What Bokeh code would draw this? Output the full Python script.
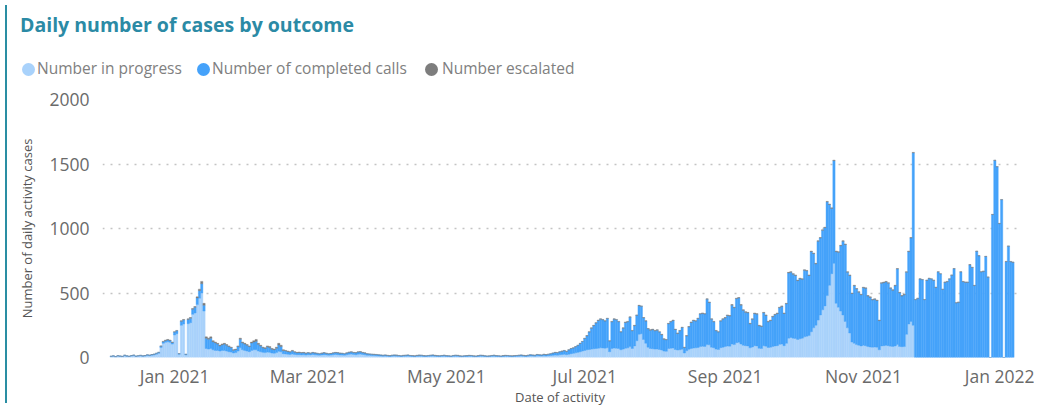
import datetime as dt
import pandas as pd
from bokeh.plotting import figure
from bokeh.layouts import row, column
from bokeh.models import ColumnDataSource, Range1d, FixedTicker, Div
from bokeh.embed import file_html
from bokeh.resources import INLINE

# ---------------- data ----------------
first_day = "2020-12-04"
last_day = "2022-01-06"

title_text = "Daily number of cases by outcome"
series_names = ["Number in progress", "Number of completed calls", "Number escalated"]

in_progress = [
    # Dec 2020 (from 4 Dec)
    8, 10, 6, 12, 9, 7, 14, 10, 8, 12, 15, 9, 11, 13, 10, 12, 16, 14, 18, 20, 25, 32, 78, 110, 118, 122, 118, 104,
    # Jan 2021
    175, 185, 25, 250, 260, 20, 262, 270, 335, 345, 410, 460, 500, 360, 70, 65, 70, 60, 55, 55, 50, 55, 55, 50, 45, 42, 35, 38, 50, 75, 60,
    # Feb
    55, 50, 45, 55, 60, 60, 50, 45, 40, 38, 42, 40, 35, 33, 38, 48, 44, 30, 28, 26, 24, 28, 24, 22, 22, 20, 21, 19,
    # Mar
    22, 20, 24, 21, 19, 18, 20, 22, 20, 18, 19, 21, 24, 22, 20, 19, 18, 21, 25, 27, 24, 22, 26, 27, 24, 21, 18, 17, 15, 15, 14,
    # Apr
    12, 11, 10, 11, 9, 8, 10, 11, 10, 9, 8, 9, 10, 11, 9, 8, 7, 9, 10, 10, 8, 8, 9, 10, 11, 9, 8, 8, 9, 10,
    # May
    8, 8, 7, 9, 10, 9, 7, 7, 8, 8, 9, 9, 7, 7, 8, 10, 9, 8, 7, 7, 9, 10, 8, 8, 7, 8, 9, 9, 8, 7, 8,
    # Jun
    9, 10, 11, 9, 8, 10, 12, 11, 10, 13, 12, 11, 13, 12, 14, 15, 17, 19, 18, 21, 23, 25, 22, 26, 30, 32, 36, 40, 45, 50,
    # Jul
    55, 60, 62, 65, 68, 70, 72, 75, 74, 72, 76, 45, 70, 74, 72, 70, 60, 65, 72, 75, 85, 70, 90, 130, 180, 185, 140, 110, 80, 70, 68,
    # Aug
    65, 66, 62, 58, 50, 48, 70, 72, 74, 62, 58, 60, 64, 35, 52, 64, 70, 74, 75, 78, 85, 88, 86, 100, 98, 80, 76, 65, 62, 76, 80,
    # Sep
    85, 90, 88, 105, 100, 115, 118, 105, 95, 92, 90, 75, 82, 92, 90, 72, 70, 92, 88, 78, 80, 86, 90, 92, 102, 105, 92, 110, 150, 155,
    # Oct
    150, 148, 140, 145, 150, 160, 165, 170, 200, 230, 250, 290, 330, 370, 400, 480, 560, 650, 730, 420, 390, 360, 330, 280, 230, 190, 120, 110, 100, 95, 90,
    # Nov
    95, 92, 85, 82, 80, 82, 80, 60, 90, 92, 94, 92, 88, 86, 90, 100, 86, 84, 85, 180, 260, 280, 250, 0, 0, 0, 0, 0, 0, 0,
    # Dec 2021
    0, 0, 0, 0, 0, 0, 0, 0, 0, 0, 0, 0, 0, 0, 0, 0, 0, 0, 0, 0, 0, 0, 0, 0, 0, 0, 0, 0, 0, 0, 0,
    # Jan 2022
    0, 0, 0, 0, 0, 0,
]

completed = [
    # Dec 2020 (from 4 Dec)
    2, 3, 1, 2, 3, 2, 4, 3, 2, 3, 4, 2, 3, 4, 3, 3, 5, 4, 5, 6, 8, 8, 10, 12, 14, 14, 14, 13,
    # Jan 2021
    22, 22, 5, 31, 31, 5, 33, 35, 39, 44, 52, 58, 72, 45, 80, 77, 80, 62, 59, 49, 40, 44, 49, 45, 40, 34, 22, 24, 35, 67, 54,
    # Feb
    49, 45, 40, 57, 60, 66, 52, 44, 35, 32, 41, 37, 29, 27, 34, 48, 41, 25, 23, 20, 18, 23, 18, 15, 17, 15, 16, 14,
    # Mar
    14, 13, 14, 13, 13, 11, 13, 14, 12, 11, 12, 13, 14, 14, 13, 13, 11, 13, 15, 15, 14, 14, 16, 16, 14, 13, 11, 10, 10, 9, 9,
    # Apr
    9, 8, 7, 8, 7, 6, 7, 8, 8, 6, 5, 7, 7, 8, 6, 6, 5, 7, 8, 7, 6, 5, 6, 7, 8, 7, 6, 5, 6, 7,
    # May
    6, 5, 4, 6, 7, 7, 5, 4, 5, 6, 7, 6, 5, 4, 6, 7, 7, 5, 4, 5, 6, 7, 6, 5, 4, 6, 7, 6, 5, 5, 6,
    # Jun
    6, 7, 8, 7, 6, 7, 9, 8, 7, 10, 9, 8, 11, 10, 11, 14, 17, 20, 19, 23, 26, 29, 25, 33, 39, 42, 48, 54, 64, 74,
    # Jul
    92, 107, 135, 162, 179, 197, 215, 222, 218, 210, 226, 82, 207, 223, 220, 207, 137, 162, 200, 202, 227, 137, 157, 197, 222, 212, 167, 172, 142, 142, 149,
    # Aug
    142, 146, 135, 119, 92, 89, 192, 205, 213, 155, 129, 147, 168, 42, 115, 173, 202, 213, 207, 224, 252, 254, 251, 352, 329, 217, 201, 142, 135, 206, 217,
    # Sep
    221, 236, 233, 301, 286, 341, 343, 301, 271, 259, 256, 186, 214, 249, 246, 174, 171, 254, 238, 198, 206, 230, 241, 249, 284, 291, 249, 306, 506, 506,
    # Oct
    496, 488, 456, 466, 456, 516, 506, 466, 621, 576, 476, 611, 596, 616, 606, 726, 626, 506, 796, 401, 426, 506, 571, 596, 431, 446, 376, 446, 431, 411, 396,
    # Nov
    446, 444, 391, 384, 366, 369, 361, 226, 486, 489, 492, 484, 448, 435, 466, 586, 415, 392, 401, 481, 561, 646, 1336, 448, 458, 608, 603, 448, 598, 613,
    # Dec 2021
    608, 598, 543, 663, 648, 528, 583, 588, 608, 638, 688, 423, 428, 663, 588, 583, 583, 718, 698, 558, 823, 788, 663, 668, 783, 623, 0, 1108, 1528, 1478, 1038,
    # Jan 2022
    1223, 0, 743, 863, 743, 738,
]

escalated = [
    # Dec 2020 (from 4 Dec)
    0, 0, 0, 0, 0, 0, 0, 0, 0, 0, 0, 0, 0, 0, 0, 0, 0, 0, 0, 0, 0, 0, 2, 3, 3, 4, 3, 3,
    # Jan 2021
    3, 3, 0, 4, 4, 0, 5, 5, 6, 6, 8, 12, 18, 15, 10, 8, 10, 8, 6, 6, 5, 6, 6, 5, 5, 4, 3, 3, 5, 8, 6,
    # Feb
    6, 5, 5, 8, 10, 14, 8, 6, 5, 5, 7, 8, 6, 5, 8, 14, 10, 5, 4, 4, 3, 4, 3, 3, 3, 3, 3, 2,
    # Mar
    2, 2, 2, 2, 1, 1, 2, 2, 2, 1, 1, 2, 2, 2, 2, 1, 1, 2, 2, 3, 2, 2, 2, 3, 2, 2, 1, 1, 1, 1, 1,
    # Apr
    1, 1, 1, 1, 1, 1, 1, 1, 1, 1, 1, 1, 1, 1, 1, 1, 1, 1, 1, 1, 1, 1, 1, 1, 1, 1, 1, 1, 1, 1,
    # May
    1, 1, 1, 1, 1, 1, 1, 1, 1, 1, 1, 1, 1, 1, 1, 1, 1, 1, 1, 1, 1, 1, 1, 1, 1, 1, 1, 1, 1, 1, 1,
    # Jun
    1, 1, 1, 1, 1, 1, 1, 1, 1, 1, 1, 1, 1, 1, 1, 1, 1, 1, 1, 1, 1, 1, 1, 1, 1, 1, 1, 1, 1, 1,
    # Jul
    3, 3, 3, 3, 3, 3, 3, 3, 3, 3, 3, 3, 3, 3, 3, 3, 3, 3, 3, 3, 3, 3, 3, 3, 3, 3, 3, 3, 3, 3, 3,
    # Aug
    3, 3, 3, 3, 3, 3, 3, 3, 3, 3, 3, 3, 3, 3, 3, 3, 3, 3, 3, 3, 3, 3, 3, 3, 3, 3, 3, 3, 3, 3, 3,
    # Sep
    4, 4, 4, 4, 4, 4, 4, 4, 4, 4, 4, 4, 4, 4, 4, 4, 4, 4, 4, 4, 4, 4, 4, 4, 4, 4, 4, 4, 4, 4,
    # Oct
    4, 4, 4, 4, 4, 4, 4, 4, 4, 4, 4, 4, 4, 4, 4, 4, 4, 4, 4, 4, 4, 4, 4, 4, 4, 4, 4, 4, 4, 4, 4,
    # Nov
    4, 4, 4, 4, 4, 4, 4, 4, 4, 4, 4, 4, 4, 4, 4, 4, 4, 4, 4, 4, 4, 4, 4, 2, 2, 2, 2, 2, 2, 2,
    # Dec 2021
    2, 2, 2, 2, 2, 2, 2, 2, 2, 2, 2, 2, 2, 2, 2, 2, 2, 2, 2, 2, 2, 2, 2, 2, 2, 2, 0, 2, 2, 2, 2,
    # Jan 2022
    2, 0, 2, 2, 2, 2,
]

y_ticks = [0, 500, 1000, 1500, 2000]
x_tick_dates = ["2021-01-01", "2021-03-01", "2021-05-01", "2021-07-01",
                "2021-09-01", "2021-11-01", "2022-01-01"]
x_tick_labels = ["Jan 2021", "Mar 2021", "May 2021", "Jul 2021",
                 "Sep 2021", "Nov 2021", "Jan 2022"]

# ---------------- styling ----------------
C_PROGRESS = "#a9d2fb"
C_DONE = "#45a2fa"
C_ESC = "#7d7d7d"
TEAL = "#2a8ea3"
FONT = "Open Sans"

dates = pd.date_range(first_day, last_day, freq="D")
n = len(dates)
assert len(in_progress) == n and len(completed) == n and len(escalated) == n, \
    (n, len(in_progress), len(completed), len(escalated))

src = ColumnDataSource(dict(date=dates, in_progress=in_progress,
                            completed=completed, escalated=escalated))

W = 1022
HEAD_H = 74
MAIN_H = 324

# ---------------- header (title + legend) ----------------
legend_pos = [(4.5, 20), (179.5, 195), (407.5, 425)]   # circle left, label left (px)
items_html = ""
for (cx, lx), col, name in zip(legend_pos, (C_PROGRESS, C_DONE, C_ESC), series_names):
    items_html += (
        f'<span style="position:absolute;left:{cx}px;top:57.5px;width:13px;height:13px;'
        f'border-radius:50%;background:{col};"></span>'
        f'<span style="position:absolute;left:{lx}px;top:56px;font-size:15.5px;line-height:1;'
        f'color:#808080;white-space:nowrap;">{name}</span>'
    )
head_html = (
    f'<div style="position:relative;width:{W - 10}px;height:{HEAD_H - 4}px;font-family:\'{FONT}\';">'
    f'<span style="position:absolute;left:3px;top:10px;font-size:19.5px;line-height:1;'
    f'font-weight:bold;color:#2b8aa5;white-space:nowrap;">{title_text}</span>'
    f'{items_html}</div>'
)
head = Div(text=head_html, width=W, height=HEAD_H)

# ---------------- main chart ----------------
x0 = dt.datetime(2021, 1, 1) - dt.timedelta(days=31.8)
x1 = dt.datetime(2021, 1, 1) + dt.timedelta(days=372.0)

p = figure(width=W, height=MAIN_H, output_backend="svg", toolbar_location=None,
           x_axis_type="datetime", x_range=Range1d(x0, x1), y_range=Range1d(0, 2000),
           min_border_left=90, min_border_right=17, min_border_top=15, min_border_bottom=42)
p.outline_line_color = None

p.vbar_stack(["in_progress", "completed", "escalated"], x="date", width=86400000,
             color=[C_PROGRESS, C_DONE, C_ESC], line_color=[C_PROGRESS, C_DONE, C_ESC],
             line_width=0.4, source=src)

tick_ms = [int(pd.Timestamp(d).value // 10**6) for d in x_tick_dates]
p.xaxis.ticker = FixedTicker(ticks=tick_ms)
p.xaxis.major_label_overrides = {t: lab for t, lab in zip(tick_ms, x_tick_labels)}
p.yaxis.ticker = FixedTicker(ticks=y_ticks)
for ax in (p.xaxis[0], p.yaxis[0]):
    ax.axis_line_color = None
    ax.major_tick_line_color = None
    ax.minor_tick_line_color = None
    ax.major_tick_out = 0
    ax.major_tick_in = 0
    ax.minor_tick_out = 0
    ax.minor_tick_in = 0
    ax.major_label_text_font = FONT
    ax.major_label_text_font_size = "17.5px"
    ax.major_label_text_color = "#6a6a6a"
    ax.axis_label_text_font = FONT
    ax.axis_label_text_font_size = "13px"
    ax.axis_label_text_font_style = "normal"
    ax.axis_label_text_color = "#555555"
p.xaxis.major_label_standoff = 6
p.yaxis.major_label_standoff = 13
p.yaxis.axis_label = "Number of daily activity cases"
p.yaxis.axis_label_standoff = 10
p.xaxis.axis_label = "Date of activity"
p.xaxis.axis_label_standoff = -3

p.xgrid.grid_line_color = None
p.ygrid.grid_line_color = "#c4c4c4"
p.ygrid.grid_line_dash = "2 6"
p.ygrid.grid_line_width = 1.5

bar = Div(text="", width=2, height=HEAD_H + MAIN_H, styles={"background-color": TEAL})

layout = row(bar, column(head, p, spacing=0), spacing=0)
open("out.html", "w").write(file_html(layout, INLINE))
